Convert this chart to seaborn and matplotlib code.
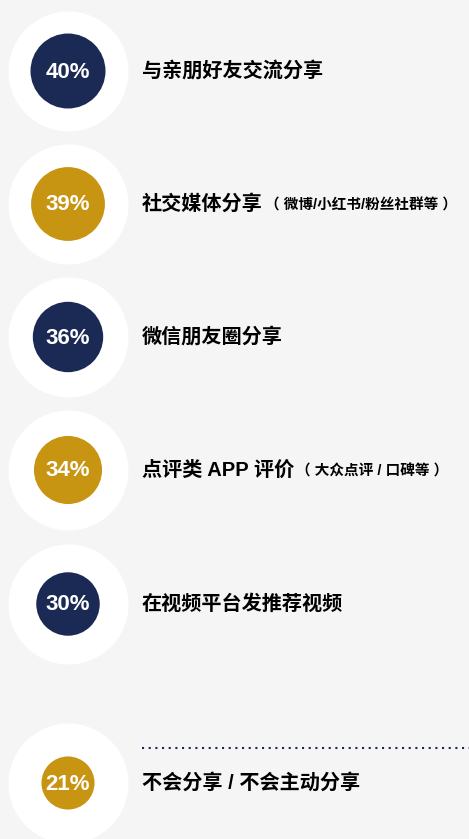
"""社交分享行为 — 气泡清单图 (白色底圈 + 按占比缩放的彩色圆)."""
import matplotlib
matplotlib.use("Agg")
import matplotlib.pyplot as plt
import numpy as np
import pandas as pd
import seaborn as sns

# ---- 数据 ----
values = [40, 39, 36, 34, 30, 21]
labels = ["与亲朋好友交流分享", "社交媒体分享", "微信朋友圈分享",
          "点评类 APP 评价", "在视频平台发推荐视频", "不会分享 / 不会主动分享"]
notes = ["", "（ 微博/小红书/粉丝社群等 ）", "", "（ 大众点评 / 口碑等 ）", "", ""]
groups = ["a", "b", "a", "b", "a", "b"]

# ---- 版式 ----
W, H, DPI = 469, 839, 100
NAVY, GOLD, BG = "#1b2a55", "#c79512", "#f5f5f5"
row_y = [71, 204, 337, 470, 604, 783]
cx, tx = 68, 142
R_OUT, R_MAX, K = 60, 37.5, 25
MAIN_FONT = ["Liberation Sans", "Noto Sans CJK SC"]

sns.set_theme(style="white")
plt.rcParams["font.family"] = ["Noto Sans CJK SC", "DejaVu Sans"]

df = pd.DataFrame({"value": values, "label": labels, "note": notes,
                   "group": groups, "y": row_y, "x": cx})
px2pt = 72 / DPI
df["r"] = R_MAX * (df["value"] + K) / (max(values) + K)
df["s"] = (2 * df["r"] * px2pt) ** 2

fig = plt.figure(figsize=(W / DPI, H / DPI), dpi=DPI, facecolor=BG)
ax = fig.add_axes([0, 0, 1, 1])
ax.set_facecolor(BG)
ax.set_xlim(0, W); ax.set_ylim(H, 0)
ax.set_axis_off()

# 白色底圈
sns.scatterplot(data=df, x="x", y="y", s=(2 * R_OUT * px2pt) ** 2, color="white",
                linewidth=0, ax=ax, legend=False, zorder=1)
# 占比圆
sns.scatterplot(data=df, x="x", y="y", hue="group", palette={"a": NAVY, "b": GOLD},
                s=df["s"].values, linewidth=0, ax=ax, legend=False, zorder=2)

renderer = fig.canvas.get_renderer()
for _, row in df.iterrows():
    ax.text(row["x"], row["y"] + 1, f"{row['value']}%", ha="center", va="center",
            color="white", fontsize=16, fontweight="bold", family=MAIN_FONT, zorder=3)
    t = ax.text(tx, row["y"], row["label"], ha="left", va="center", color="black",
                fontsize=14.5, fontweight="bold", family=MAIN_FONT)
    if row["note"]:
        bb = t.get_window_extent(renderer)
        x_end = ax.transData.inverted().transform((bb.x1, 0))[0]
        ax.text(x_end + 2, row["y"] + 1, row["note"], ha="left", va="center",
                color="black", fontsize=10.5, fontweight="bold", family=MAIN_FONT)

# 分隔虚线
ax.plot([tx, W], [748, 748], color=NAVY, lw=1.5, ls=(0, (1, 2.2)))

fig.savefig("out.png", dpi=DPI, facecolor=BG)
